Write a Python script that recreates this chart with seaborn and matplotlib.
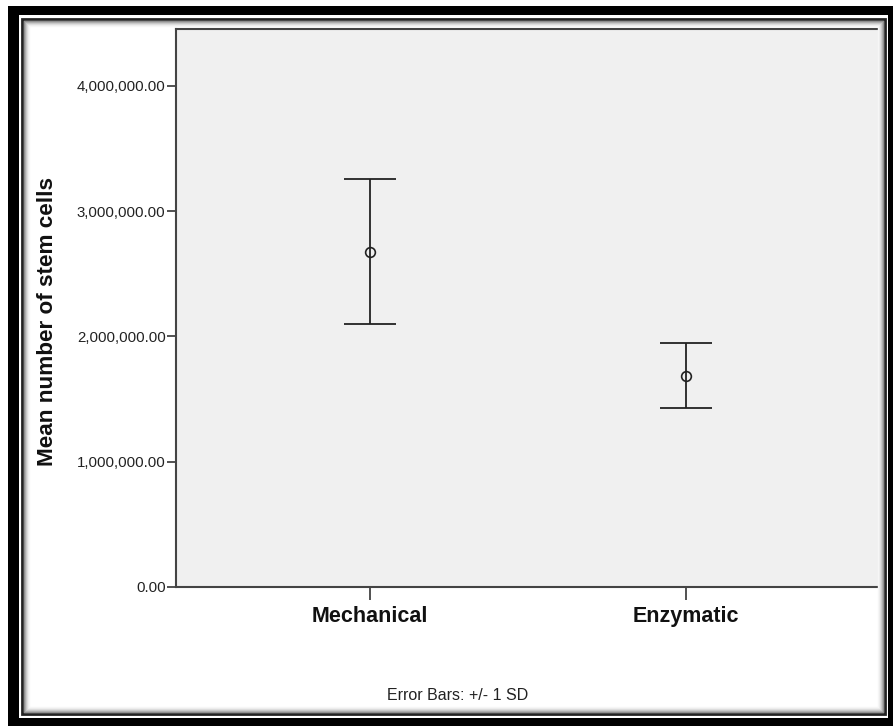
import matplotlib
matplotlib.use("Agg")
import matplotlib.pyplot as plt
import matplotlib.patches as mpatches
from matplotlib.ticker import FuncFormatter
import seaborn as sns

groups = ["Mechanical", "Enzymatic"]
means = [2677000, 1686000]
sds = [580000, 260000]
yticks = [0, 1000000, 2000000, 3000000, 4000000]

sns.set_style("white")
plt.rcParams["font.family"] = ["Liberation Sans", "DejaVu Sans"]

W, H = 893, 726
fig = plt.figure(figsize=(W / 100, H / 100), dpi=100)
fig.patch.set_facecolor("white")


def px_rect(x0, y0, x1, y1, **kw):
    # rectangle given in pixel coords (origin top-left)
    r = mpatches.Rectangle((x0 / W, 1 - y1 / H), (x1 - x0) / W, (y1 - y0) / H,
                           transform=fig.transFigure, **kw)
    fig.add_artist(r)


# outer frame with inner shadow
px_rect(8, 6, 893, 726, facecolor="black", edgecolor="none", zorder=0)
px_rect(19, 15, 888, 718, facecolor="white", edgecolor="none", zorder=0)
px_rect(22, 18.5, 885, 714, facecolor="none", edgecolor="#222222", lw=2, zorder=1)
for i, c in enumerate(["#8a8a8a", "#a8a8a8", "#c4c4c4", "#dadada", "#ebebeb", "#f6f6f6"]):
    px_rect(24 + i, 20.5 + i, 883 - i, 712 - i, facecolor="none", edgecolor=c, lw=1, zorder=1)

ax = fig.add_axes([176 / W, 1 - 587 / H, (881 - 176) / W, (587 - 29) / H])
ax.set_facecolor("#f0f0f0")

sns.pointplot(x=groups, y=means, errorbar=None, linestyle="none", marker="o",
              markersize=7, markerfacecolor="none", markeredgecolor="#222222",
              markeredgewidth=1.2, color="#222222", ax=ax, zorder=3)
ax.errorbar(range(len(groups)), means, yerr=sds, fmt="none", ecolor="#222222",
            elinewidth=1.3, capsize=19, capthick=1.3, zorder=2)

ax.set_xlim(-0.615, 1.618)
ax.set_ylim(0, 4455000)
ax.set_yticks(yticks)
ax.yaxis.set_major_formatter(FuncFormatter(lambda v, p: f"{v:,.2f}"))
ax.tick_params(axis="y", direction="out", length=6.5, width=1.2, color="#333333",
               labelsize=10.8, labelcolor="#222222", left=True, pad=1)
ax.tick_params(axis="x", direction="out", length=9, width=1.2, color="#333333",
               labelsize=15.5, labelcolor="#111111", pad=5, bottom=True)
for lab in ax.get_xticklabels():
    lab.set_fontweight("bold")
for s in ax.spines.values():
    s.set_color("#444444")
    s.set_linewidth(1.5)

ax.set_xlabel("")
ax.set_ylabel("Mean number of stem cells", fontsize=16.2, fontweight="bold", color="#111111")
ax.yaxis.set_label_coords(-0.167, 0.475)
fig.text(458 / W, 1 - 695 / H, "Error Bars: +/- 1 SD", ha="center", va="center",
         fontsize=11.5, color="#222222")

fig.savefig("out.png", dpi=100)
